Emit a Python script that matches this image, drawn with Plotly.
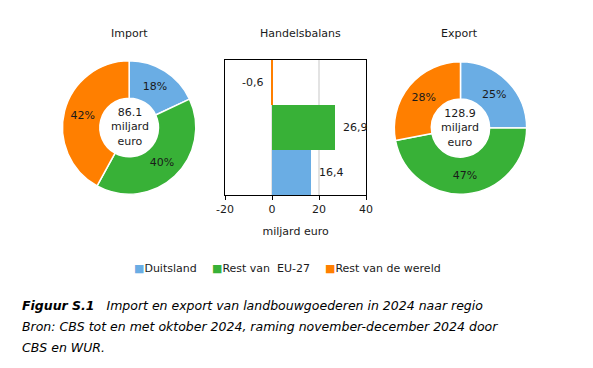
import plotly.graph_objects as go

W, H = 593, 368

regions = ["Duitsland", "Rest van\u00a0 EU-27", "Rest van de wereld"]
colors = ["#6AADE4", "#38B137", "#FF7F00"]
import_pct = [18, 40, 42]
export_pct = [25, 47, 28]
import_total = "86.1"
export_total = "128.9"
balance = [16.4, 26.9, -0.6]
x_ticks = [-20, 0, 20, 40]

FONT = "DejaVu Sans"
TXT = "#1a1a1a"

def px_x(a, b):
    return [a / W, b / W]

def px_y(top, bottom):
    return [1 - bottom / H, 1 - top / H]

fig = go.Figure()

# Import donut
fig.add_trace(go.Pie(
    labels=regions, values=import_pct, sort=False, direction="clockwise", rotation=0,
    hole=0.44, marker=dict(colors=colors, line=dict(color="white", width=1.5)),
    text=[f"{v}%" for v in import_pct], textinfo="text", textposition="inside",
    insidetextorientation="horizontal", textfont=dict(family=FONT, size=11, color=TXT),
    domain=dict(x=px_x(55, 192), y=px_y(59, 196)), showlegend=False, hoverinfo="label+percent",
))
# Export donut
fig.add_trace(go.Pie(
    labels=regions, values=export_pct, sort=False, direction="clockwise", rotation=0,
    hole=0.44, marker=dict(colors=colors, line=dict(color="white", width=1.5)),
    text=[f"{v}%" for v in export_pct], textinfo="text", textposition="inside",
    insidetextorientation="horizontal", textfont=dict(family=FONT, size=11, color=TXT),
    domain=dict(x=px_x(396, 532), y=px_y(60, 196)), showlegend=False, hoverinfo="label+percent",
))

# Trade balance bars
for r, v, c in zip(regions, balance, colors):
    fig.add_trace(go.Bar(
        y=[r], x=[v], orientation="h", marker=dict(color=c, line=dict(width=0)),
        name=r, width=1, xaxis="x", yaxis="y", showlegend=False,
    ))

annotations = []
for r, v in zip(regions, balance):
    annotations.append(dict(
        x=v, y=r, xref="x", yref="y", text=f"{v:.1f}".replace(".", ","),
        showarrow=False, xanchor="left" if v >= 0 else "right",
        xshift=6 if v >= 0 else -6, font=dict(family=FONT, size=11, color=TXT),
    ))

# panel titles
for txt, cx in [("Import", 124), ("Handelsbalans", 300), ("Export", 463)]:
    annotations.append(dict(x=cx / W, y=1 - 34 / H, xref="paper", yref="paper", text=txt,
                            showarrow=False, xanchor="center", yanchor="middle",
                            font=dict(family=FONT, size=11, color=TXT)))

# donut centres
for total, cx, cy in [(import_total, 124, 127), (export_total, 464, 128)]:
    annotations.append(dict(x=cx / W, y=1 - cy / H, xref="paper", yref="paper",
                            text=f"{total}<br>miljard<br>euro", showarrow=False,
                            xanchor="center", yanchor="middle", align="center",
                            font=dict(family=FONT, size=11, color=TXT)))

# legend (coloured square + label)
for r, c, lx in zip(regions, colors, [126, 207, 323]):
    annotations.append(dict(x=lx / W, y=1 - 268 / H, xref="paper", yref="paper",
                            text=f"<span style='color:{c}'>\u25A0</span>{r}",
                            showarrow=False, xanchor="left", yanchor="middle",
                            font=dict(family=FONT, size=11, color=TXT)))

# caption
cap_font = dict(family=FONT, size=12.5, color="#000000")
caption = [
    "<b><i>Figuur S.1</i></b>\u00a0\u00a0 <i>Import en export van landbouwgoederen in 2024 naar regio</i>",
    "<i>Bron: CBS tot en met oktober 2024, raming november-december 2024 door</i>",
    "<i>CBS en WUR.</i>",
]
for i, line in enumerate(caption):
    annotations.append(dict(x=11 / W, y=1 - (305 + 21 * i) / H, xref="paper", yref="paper",
                            text=line, showarrow=False, xanchor="left", yanchor="middle",
                            align="left", font=cap_font))

fig.update_layout(
    width=W, height=H, margin=dict(l=0, r=0, t=0, b=0),
    paper_bgcolor="white", plot_bgcolor="white",
    barmode="relative", bargap=0, showlegend=False,
    font=dict(family=FONT, size=11, color=TXT),
    xaxis=dict(domain=px_x(222, 367), range=[-20, 40], tickvals=x_ticks,
               ticktext=[str(t) for t in x_ticks],
               showgrid=True, gridcolor="#e3e3e3", gridwidth=2, zeroline=False,
               showline=True, linecolor="#000000", linewidth=1.2, mirror=True,
               ticks="outside", ticklen=4, tickcolor="#000000",
               tickfont=dict(family=FONT, size=11, color=TXT),
               title=dict(text="miljard euro", standoff=12,
                          font=dict(family=FONT, size=11, color=TXT)),
               fixedrange=True),
    yaxis=dict(domain=px_y(60, 195), showticklabels=False, showgrid=False, zeroline=False,
               showline=True, linecolor="#000000", linewidth=1.2, mirror=True, ticks="",
               categoryorder="array", categoryarray=regions, fixedrange=True),
    annotations=annotations,
)

fig.write_html("out.html", post_script="document.body.style.margin='0px';",
               config=dict(displayModeBar=False))
